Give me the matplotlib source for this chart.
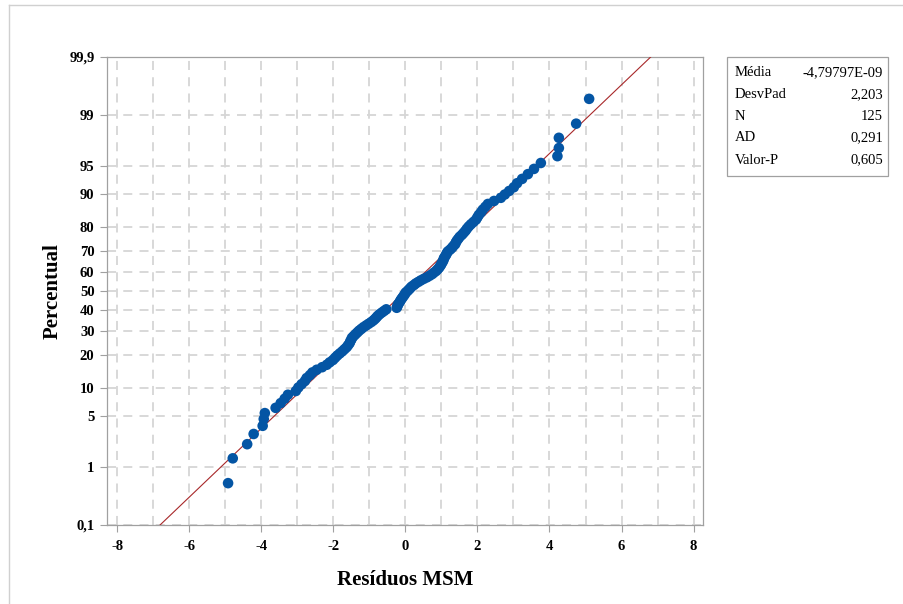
import matplotlib
matplotlib.use("Agg")
import matplotlib.pyplot as plt
import numpy as np
from statistics import NormalDist

# residuals (sorted)
residuals = [
    -4.92, -4.79, -4.39, -4.21, -3.96, -3.93, -3.90, -3.60, -3.46, -3.35,
    -3.26, -3.04, -2.97, -2.88, -2.79, -2.74, -2.65, -2.58, -2.46, -2.31,
    -2.18, -2.10, -2.01, -1.95, -1.89, -1.82, -1.75, -1.69, -1.63, -1.59,
    -1.55, -1.53, -1.50, -1.48, -1.43, -1.38, -1.33, -1.28, -1.22, -1.16,
    -1.09, -1.02, -0.95, -0.89, -0.84, -0.80, -0.76, -0.71, -0.65, -0.59,
    -0.53, -0.24, -0.22, -0.21, -0.18, -0.15, -0.13, -0.10, -0.07, -0.04,
    -0.01, 0.01, 0.06, 0.10, 0.14, 0.18, 0.24, 0.29, 0.36, 0.43,
    0.51, 0.60, 0.67, 0.74, 0.79, 0.85, 0.89, 0.93, 0.96, 0.99,
    1.01, 1.04, 1.06, 1.07, 1.10, 1.13, 1.15, 1.18, 1.24, 1.29,
    1.33, 1.38, 1.40, 1.43, 1.47, 1.51, 1.57, 1.62, 1.67, 1.71,
    1.76, 1.82, 1.89, 1.96, 2.00, 2.04, 2.10, 2.15, 2.22, 2.29,
    2.46, 2.65, 2.76, 2.88, 3.01, 3.10, 3.24, 3.40, 3.57, 3.76,
    4.22, 4.26, 4.26, 4.74, 5.10,
]

# summary shown in the box
stat_names = ['Média', 'DesvPad', 'N', 'AD', 'Valor-P']
stat_values = ['-4,79797E-09', '2,203', '125', '0,291', '0,605']
mean_val = -4.79797e-09
std_val = 2.203

pct_ticks = [0.1, 1, 5, 10, 20, 30, 40, 50, 60, 70, 80, 90, 95, 99, 99.9]
pct_labels = ['0,1', '1', '5', '10', '20', '30', '40', '50', '60', '70',
              '80', '90', '95', '99', '99,9']
x_ticks = [-8, -6, -4, -2, 0, 2, 4, 6, 8]

nd = NormalDist()


def to_z(pct):
    return nd.inv_cdf(pct / 100.0)


serif = ['Liberation Serif', 'DejaVu Serif']

fig = plt.figure(figsize=(9.04, 6.04), dpi=100)
ax = fig.add_axes([107 / 904, 1 - 525 / 604, (703 - 107) / 904, (525 - 57) / 604])

# plotting positions (median ranks)
n = len(residuals)
ranks = np.arange(1, n + 1)
pos = (ranks - 0.3) / (n + 0.4)
zpts = [nd.inv_cdf(p) for p in pos]

# fitted line
zl = np.array([to_z(0.1), to_z(99.9)])
ax.plot(mean_val + std_val * zl, zl, color='#a8282a', lw=0.8, zorder=3)
ax.scatter(residuals, zpts, s=58, color='#0455a4', edgecolors='none', zorder=4)

ax.set_xlim(-8.28, 8.26)
ax.set_ylim(to_z(0.1), to_z(99.9))

ax.set_xticks(x_ticks)
ax.set_xticklabels([str(t) for t in x_ticks])
ax.set_xticks(np.arange(-7, 8, 2), minor=True)
ax.set_yticks([to_z(p) for p in pct_ticks])
ax.set_yticklabels(pct_labels)

ax.grid(which='both', axis='x', color='#d6d6d6', ls=(0, (5, 4)), lw=1.3)
ax.grid(which='major', axis='y', color='#d6d6d6', ls=(0, (5, 4)), lw=1.3)
ax.set_axisbelow(True)

ax.tick_params(which='major', length=5, width=0.8, color='#a0a0a0', pad=4)
ax.tick_params(axis='x', which='major', pad=6)
ax.tick_params(which='minor', length=0)
for lab in ax.get_xticklabels() + ax.get_yticklabels():
    lab.set_family(serif)
    lab.set_fontweight('bold')
    lab.set_fontsize(10.5)
for sp in ax.spines.values():
    sp.set_color('#a0a0a0')
    sp.set_linewidth(0.9)

ax.set_xlabel('Resíduos MSM', family=serif, fontweight='bold', fontsize=15, labelpad=12)
ax.set_ylabel('Percentual', family=serif, fontweight='bold', fontsize=15, labelpad=5)

# stats box
bx0, by0, bx1, by1 = 727, 57, 888, 176
fig.patches.append(plt.Rectangle((bx0 / 904, 1 - by1 / 604), (bx1 - bx0) / 904, (by1 - by0) / 604,
                                 transform=fig.transFigure, fill=False,
                                 edgecolor='#a0a0a0', lw=0.9))
rows_y = [73, 95, 116, 138, 160]
for name, val, yy in zip(stat_names, stat_values, rows_y):
    fig.text(735 / 904, 1 - yy / 604, name, family=serif, fontsize=10.5,
             ha='left', va='center')
    fig.text(883 / 904, 1 - yy / 604, val, family=serif, fontsize=10.5,
             ha='right', va='center')

# outer frame lines
fig.add_artist(plt.Line2D([9 / 904, 1], [1 - 5 / 604, 1 - 5 / 604], color='#d0d0d0', lw=1))
fig.add_artist(plt.Line2D([9 / 904, 9 / 904], [0, 1 - 5 / 604], color='#d0d0d0', lw=1))

fig.savefig('out.png', dpi=100)
